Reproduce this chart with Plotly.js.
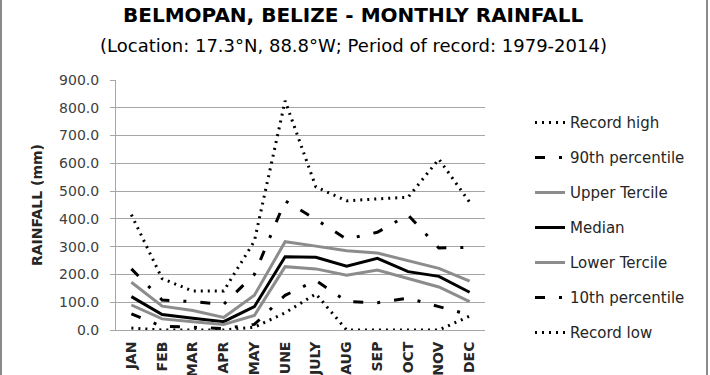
<!DOCTYPE html>
<html>
<head>
<meta charset="utf-8">
<script src="https://cdn.plot.ly/plotly-3.0.1.min.js"></script>
<style>
  html, body { margin: 0; padding: 0; background: #fff; }
  #wrap { position: relative; width: 710px; height: 375px; overflow: hidden; }
  #chart { width: 710px; height: 375px; }
  .edge { position: absolute; top: 0; width: 2px; height: 375px; background: #8a8a8a; }
</style>
</head>
<body>
<div id="wrap">
  <div id="chart"></div>
  <div class="edge" style="left:0"></div>
  <div class="edge" style="left:706px"></div>
</div>
<script>
const months = ["JAN","FEB","MAR","APR","MAY","JUNE","JULY","AUG","SEP","OCT","NOV","DEC"];
const recordHigh = [415, 185, 140, 140, 320, 825, 515, 465, 472, 478, 615, 460];
const pct90      = [220, 108, 102, 92, 200, 465, 398, 327, 352, 414, 295, 298];
const upperTerc  = [172, 86, 70, 45, 125, 318, 302, 285, 277, 250, 222, 176];
const median     = [120, 56, 42, 30, 84, 264, 262, 230, 258, 210, 193, 136];
const lowerTerc  = [90, 40, 30, 20, 52, 228, 220, 197, 216, 185, 155, 102];
const pct10      = [58, 13, 10, 5, 20, 125, 178, 103, 98, 115, 84, 55];
const recordLow  = [7, 0, 0, 0, 10, 62, 130, 0, 0, 0, 0, 50];
const seriesNames = ["Record high","90th percentile","Upper Tercile","Median","Lower Tercile","10th percentile","Record low"];

const dotted = "2px,5px";
const dashdot = "10px,14px,3px,14px";
const styles = [
  {color:"#000000", width:3, dash:dotted},
  {color:"#000000", width:3, dash:dashdot},
  {color:"#8c8c8c", width:3, dash:"solid"},
  {color:"#000000", width:3, dash:"solid"},
  {color:"#8c8c8c", width:3, dash:"solid"},
  {color:"#000000", width:3, dash:dashdot},
  {color:"#000000", width:3, dash:dotted}
];
const values = [recordHigh, pct90, upperTerc, median, lowerTerc, pct10, recordLow];

const traces = values.map((v, i) => ({
  type: "scatter",
  mode: "lines",
  x: months,
  y: v,
  name: seriesNames[i],
  legendgroup: "g" + i,
  line: styles[i],
  hoverinfo: "skip"
}));

const layout = {
  width: 710,
  height: 375,
  margin: {l: 116, r: 225, t: 80, b: 45},
  paper_bgcolor: "#ffffff",
  plot_bgcolor: "#ffffff",
  font: {family: "DejaVu Sans", color: "#404040", size: 14},
  showlegend: true,
  legend: {
    x: 1.122, xanchor: "left",
    y: 0.895, yanchor: "top",
    traceorder: "grouped",
    tracegroupgap: 12.5,
    font: {family: "DejaVu Sans", size: 15, color: "#262626"},
    bgcolor: "rgba(0,0,0,0)"
  },
  xaxis: {
    type: "category",
    tickangle: -90,
    tickfont: {family: "DejaVu Sans", size: 14, color: "#262626", weight: "bold"},
    showgrid: false,
    showline: true,
    linecolor: "#a6a6a6",
    linewidth: 1,
    ticks: "",
    ticklabelstandoff: 5,
    range: [-0.5, 11.5],
    fixedrange: true
  },
  yaxis: {
    range: [0, 900],
    dtick: 100,
    tickformat: ".1f",
    showgrid: true,
    gridcolor: "#a6a6a6",
    gridwidth: 1,
    zeroline: false,
    showline: true,
    linecolor: "#a6a6a6",
    linewidth: 1,
    ticks: "outside",
    ticklen: 5,
    tickcolor: "#a6a6a6",
    ticklabelstandoff: 8,
    tickfont: {family: "DejaVu Sans", size: 14, color: "#404040"},
    title: {
      text: "RAINFALL (mm)",
      font: {family: "DejaVu Sans", size: 14, color: "#262626", weight: "bold"},
      standoff: 13
    },
    fixedrange: true
  },
  annotations: [
    {
      text: "BELMOPAN, BELIZE - MONTHLY RAINFALL",
      xref: "paper", yref: "paper",
      x: 0.643, y: 1.0, yshift: 65,
      xanchor: "center", yanchor: "middle",
      showarrow: false,
      font: {family: "DejaVu Sans", size: 20, color: "#000000", weight: "bold"}
    },
    {
      text: "(Location: 17.3°N, 88.8°W; Period of record: 1979-2014)",
      xref: "paper", yref: "paper",
      x: 0.643, y: 1.0, yshift: 35,
      xanchor: "center", yanchor: "middle",
      showarrow: false,
      font: {family: "DejaVu Sans", size: 18, color: "#000000"}
    }
  ]
};

Plotly.newPlot("chart", traces, layout, {staticPlot: true, displayModeBar: false});
</script>
</body>
</html>
